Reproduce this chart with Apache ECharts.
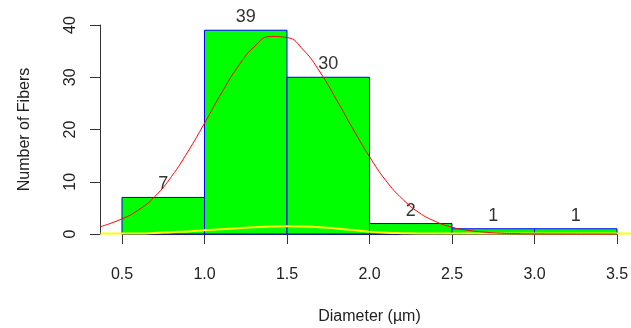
<!DOCTYPE html>
<html>
<head>
<meta charset="utf-8">
<script src="https://cdn.jsdelivr.net/npm/echarts@6/dist/echarts.min.js"></script>
<style>
  html, body { margin: 0; padding: 0; background: #fff; }
  #chart { width: 631px; height: 328px; }
</style>
</head>
<body>
<div id="chart"></div>
<script>
// histogram bins (diameter, µm) and counts
const binStart = [0.5, 1.0, 1.5, 2.0, 2.5, 3.0];
const binEnd = [1.0, 1.5, 2.0, 2.5, 3.0, 3.5];
const counts = [7, 39, 30, 2, 1, 1];

// red fitted curve
const normX = [0.37, 0.5, 0.6, 0.7, 0.8, 0.9, 1.0, 1.1, 1.2, 1.3, 1.4, 1.5, 1.6, 1.7, 1.8, 1.9, 2.0, 2.1, 2.2, 2.3, 2.4, 2.5, 2.6, 2.7, 2.8, 2.9, 3.0, 3.2, 3.5];
const normY = [1.4, 2.9, 4.6, 7.2, 11.0, 15.8, 21.2, 26.8, 31.9, 35.8, 37.8, 37.6, 35.2, 31.0, 25.7, 20.1, 14.8, 10.2, 6.7, 4.1, 2.4, 1.3, 0.7, 0.35, 0.15, 0.07, 0.03, 0.01, 0.0];

// yellow density curve along the bottom
const densX = [0.37, 0.6, 0.7, 0.8, 0.9, 1.0, 1.1, 1.2, 1.3, 1.4, 1.5, 1.6, 1.7, 1.8, 1.9, 2.0, 2.1, 2.2, 2.3, 2.5, 3.0, 3.59];
const densY = [0.1, 0.1, 0.2, 0.35, 0.5, 0.7, 0.9, 1.1, 1.3, 1.45, 1.5, 1.45, 1.3, 1.05, 0.75, 0.45, 0.25, 0.15, 0.1, 0.1, 0.1, 0.1];

// axis ticks
const xTicks = [0.5, 1.0, 1.5, 2.0, 2.5, 3.0, 3.5];
const yTicks = [0, 10, 20, 30, 40];

const histData = binStart.map((s, i) => [s, binEnd[i], counts[i]]);
const zip = (xs, ys) => xs.map((x, i) => [x, ys[i]]);

const font = '"Liberation Sans", Arial, sans-serif';
const ink = '#333';

const chart = echarts.init(document.getElementById('chart'));
chart.setOption({
  animation: false,
  backgroundColor: '#fff',
  grid: [
    // plotting area (hidden axes)
    { left: 100, right: 0, top: 25, bottom: 94, outerBoundsMode: 'none' },
    // visible R-style axes
    { left: 122, right: 14, top: 25, bottom: 94, outerBoundsMode: 'none' }
  ],
  xAxis: [
    {
      gridIndex: 0, type: 'value', min: 0.3667, max: 3.585,
      show: false
    },
    {
      gridIndex: 1, type: 'value', min: 0.5, max: 3.5, interval: 0.5,
      offset: 9,
      splitLine: { show: false },
      axisLine: { show: true, lineStyle: { color: ink, width: 1 } },
      axisTick: { show: true, customValues: xTicks, length: 10, lineStyle: { color: ink } },
      axisLabel: {
        customValues: xTicks, margin: 24,
        formatter: v => v.toFixed(1),
        color: '#222', fontSize: 16, fontFamily: font
      },
      name: 'Diameter (µm)', nameLocation: 'middle', nameGap: 66,
      nameTextStyle: { color: '#222', fontSize: 16, fontFamily: font }
    }
  ],
  yAxis: [
    {
      gridIndex: 0, type: 'value', min: 0, max: 40,
      show: false
    },
    {
      gridIndex: 1, type: 'value', min: 0, max: 40, interval: 10,
      offset: 22,
      splitLine: { show: false },
      axisLine: { show: true, lineStyle: { color: ink, width: 1 } },
      axisTick: { show: true, customValues: yTicks, length: 10, lineStyle: { color: ink } },
      axisLabel: {
        customValues: yTicks, rotate: 90, margin: 21,
        color: '#222', fontSize: 16, fontFamily: font
      },
      name: 'Number of Fibers', nameLocation: 'middle', nameGap: 67,
      nameTextStyle: { color: '#222', fontSize: 16, fontFamily: font }
    }
  ],
  series: [
    {
      type: 'custom',
      xAxisIndex: 0, yAxisIndex: 0,
      data: histData,
      z: 2,
      renderItem(params, api) {
        const p0 = api.coord([api.value(0), 0]);
        const p1 = api.coord([api.value(1), api.value(2)]);
        return {
          type: 'group',
          children: [
            {
              type: 'rect',
              shape: { x: p0[0], y: p1[1], width: p1[0] - p0[0], height: p0[1] - p1[1] },
              style: { fill: '#00ff00', stroke: '#0000ff', lineWidth: 1 }
            },
            {
              type: 'text',
              z2: 10,
              style: {
                text: String(api.value(2)),
                x: (p0[0] + p1[0]) / 2, y: p1[1] - 13,
                align: 'center', verticalAlign: 'middle',
                fill: ink, font: '18px ' + font
              }
            }
          ]
        };
      }
    },
    {
      type: 'line',
      xAxisIndex: 0, yAxisIndex: 0,
      data: zip(densX, densY),
      smooth: true, showSymbol: false, clip: false, z: 3,
      lineStyle: { color: '#ffff00', width: 2 }
    },
    {
      type: 'line',
      xAxisIndex: 0, yAxisIndex: 0,
      data: zip(normX, normY),
      smooth: true, showSymbol: false, clip: false, z: 4,
      lineStyle: { color: '#ff0000', width: 1 }
    }
  ]
});
</script>
</body>
</html>
